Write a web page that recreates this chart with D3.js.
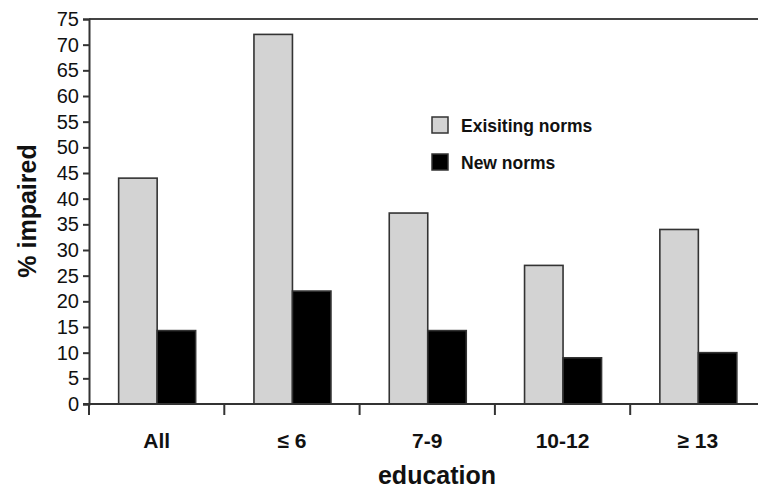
<!DOCTYPE html>
<html>
<head>
<meta charset="utf-8">
<script src="https://cdn.jsdelivr.net/npm/d3@7"></script>
<style>
  html, body { margin: 0; padding: 0; background: #fff; }
  svg { display: block; }
  text { font-family: "Liberation Sans", Arial, sans-serif; fill: #111; }
</style>
</head>
<body>
<svg id="chart" width="758" height="492"></svg>
<script>
const categories = ["All", "\u2264 6", "7-9", "10-12", "\u2265 13"];
const seriesNames = ["Exisiting norms", "New norms"];
const existingNorms = [44, 72, 37.2, 27, 34];
const newNorms = [14.3, 22, 14.3, 9, 10];
const yTicks = [0, 5, 10, 15, 20, 25, 30, 35, 40, 45, 50, 55, 60, 65, 70, 75];
const colors = ["#d3d3d3", "#000000"];

(function () {
const svg = d3.select("#chart");
const mLeft = 89, mTop = 19, mBottom = 404;
const step = 135.3;
const mRight = mLeft + step * categories.length;

const x = d3.scaleBand().domain(categories).range([mLeft, mRight]).padding(0);
const x1 = d3.scaleBand().domain(seriesNames).range([0, 77]).padding(0);
const y = d3.scaleLinear().domain([0, 75]).range([mBottom, mTop]);

// top frame line
svg.append("line")
  .attr("x1", mLeft).attr("x2", 758)
  .attr("y1", y(75)).attr("y2", y(75))
  .attr("stroke", "#444").attr("stroke-width", 2);

// bars
const data = categories.map((c, i) => ({ c, vals: [existingNorms[i], newNorms[i]] }));
const groups = svg.append("g").selectAll("g").data(data).join("g")
  .attr("transform", d => `translate(${x(d.c) + x.bandwidth() / 2 - 38},0)`);
groups.selectAll("rect").data(d => d.vals.map((v, j) => ({ s: seriesNames[j], v, j })))
  .join("rect")
  .attr("x", d => x1(d.s))
  .attr("width", x1.bandwidth())
  .attr("y", d => y(d.v))
  .attr("height", d => y(0) - y(d.v))
  .attr("fill", d => colors[d.j])
  .attr("stroke", "#333")
  .attr("stroke-width", 1.6);

// y axis
const yAxis = svg.append("g")
  .attr("transform", `translate(${mLeft},0)`)
  .call(d3.axisLeft(y).tickValues(yTicks).tickSize(6).tickPadding(4));
yAxis.select(".domain").attr("stroke", "#333").attr("stroke-width", 2);
yAxis.selectAll(".tick line").attr("stroke", "#333").attr("stroke-width", 2);
yAxis.selectAll(".tick text")
  .style("font-family", "'Liberation Sans', Arial, sans-serif")
  .style("font-size", "20px").attr("fill", "#222");

// x axis: labels
const xAxis = svg.append("g")
  .attr("transform", `translate(0,${mBottom})`)
  .call(d3.axisBottom(x).tickSize(0).tickPadding(29));
xAxis.select(".domain").remove();
xAxis.selectAll(".tick text")
  .style("font-family", "'Liberation Sans', Arial, sans-serif")
  .style("font-size", "21px").style("font-weight", "bold").attr("fill", "#111");

// x axis line and boundary ticks
svg.append("line")
  .attr("x1", mLeft - 6).attr("x2", 758)
  .attr("y1", mBottom).attr("y2", mBottom)
  .attr("stroke", "#333").attr("stroke-width", 2);
svg.append("g").selectAll("line").data(categories).join("line")
  .attr("x1", d => x(d)).attr("x2", d => x(d))
  .attr("y1", mBottom).attr("y2", mBottom + 11)
  .attr("stroke", "#333").attr("stroke-width", 2);

// axis titles
svg.append("text")
  .attr("x", 437).attr("y", 484)
  .attr("text-anchor", "middle")
  .style("font-size", "25px").style("font-weight", "bold")
  .text("education");
svg.append("text")
  .attr("transform", "translate(36,211) rotate(-90)")
  .attr("text-anchor", "middle")
  .style("font-size", "25px").style("font-weight", "bold")
  .text("% impaired");

// legend
const legend = svg.append("g").attr("transform", "translate(432,117)");
seriesNames.forEach((s, i) => {
  const g = legend.append("g").attr("transform", `translate(0,${i * 37})`);
  g.append("rect").attr("x", 0).attr("y", 0).attr("width", 16).attr("height", 16)
    .attr("fill", colors[i]).attr("stroke", "#333").attr("stroke-width", 1.5);
  g.append("text").attr("x", 29).attr("y", 14.5)
    .style("font-size", "17.5px").style("font-weight", "bold")
    .text(s);
});
})();
</script>
</body>
</html>
